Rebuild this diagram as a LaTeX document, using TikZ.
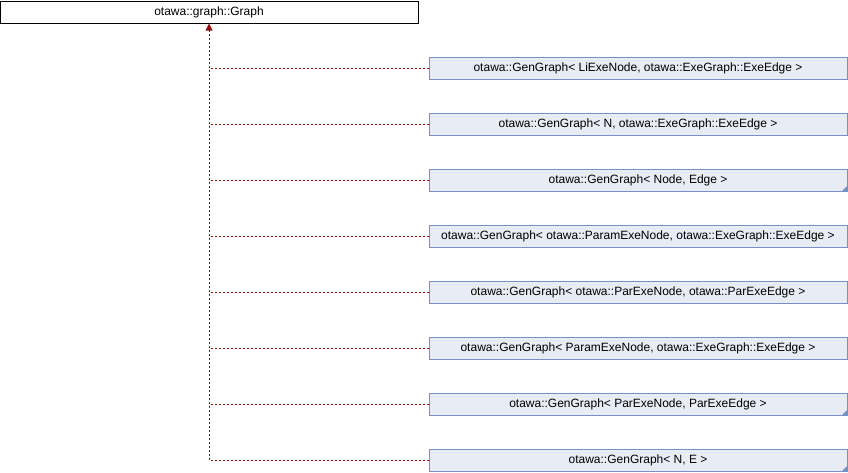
\documentclass[tikz,border=0pt]{standalone}
\usepackage{fontspec}
\setmainfont{Liberation Sans}
\usetikzlibrary{arrows.meta}
\definecolor{boxfill}{RGB}{232,236,245}
\definecolor{boxdraw}{RGB}{120,144,198}
\definecolor{edgered}{RGB}{155,10,10}
\begin{document}
\begin{tikzpicture}[x=1pt,y=-1pt,
  every node/.style={font=\fontsize{12}{14}\selectfont, inner sep=0pt},
  basebox/.style={draw=black, fill=white, line width=1pt, minimum width=418pt, minimum height=22pt},
  childbox/.style={draw=boxdraw, fill=boxfill, line width=1pt, minimum width=418pt, minimum height=22pt},
  edge/.style={draw=edgered, line width=0.9pt, dash pattern=on 2pt off 2pt},
  corner/.style={fill=boxdraw, draw=none}
]
\useasboundingbox (0,0) rectangle (848,472);
\node[basebox] (top) at (209,12) {otawa::graph::Graph};
\node[childbox] (c1) at (638,68) {otawa::GenGraph< LiExeNode, otawa::ExeGraph::ExeEdge >};
\node[childbox] (c2) at (638,124) {otawa::GenGraph< N, otawa::ExeGraph::ExeEdge >};
\node[childbox] (c3) at (638,180) {otawa::GenGraph< Node, Edge >};
\node[childbox] (c4) at (638,236) {otawa::GenGraph< otawa::ParamExeNode, otawa::ExeGraph::ExeEdge >};
\node[childbox] (c5) at (638,292) {otawa::GenGraph< otawa::ParExeNode, otawa::ParExeEdge >};
\node[childbox] (c6) at (638,348) {otawa::GenGraph< ParamExeNode, otawa::ExeGraph::ExeEdge >};
\node[childbox] (c7) at (638,404) {otawa::GenGraph< ParExeNode, ParExeEdge >};
\node[childbox] (c8) at (638,460) {otawa::GenGraph< N, E >};
\foreach \n in {c3,c7,c8}{
  \fill[corner] ([xshift=-0.5pt,yshift=0.5pt]\n.south east) -- ++(0,-5) -- ++(-5,5) -- cycle;
}
\foreach \n in {c1,c2,c3,c4,c5,c6,c7}{
  \draw[edge] (\n.west) -- (top.south |- \n.west);
}
\draw[edge] (c8.west) -| (top.south);
\fill[edgered] (top.south) -- ++(-3.5,7) -- ++(7,0) -- cycle;
\end{tikzpicture}
\end{document}
